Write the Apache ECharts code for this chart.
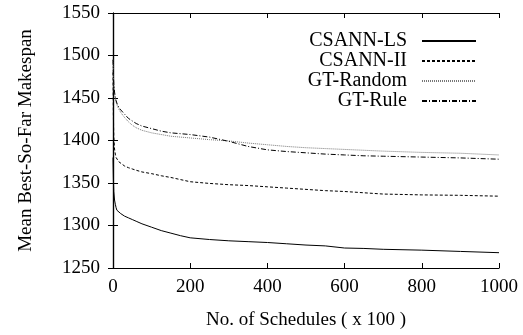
<!DOCTYPE html>
<html>
<head>
<meta charset="utf-8">
<script src="https://cdn.jsdelivr.net/npm/echarts@6/dist/echarts.min.js"></script>
<style>html,body{margin:0;padding:0;background:#fff}#c{width:523px;height:335px}</style>
</head>
<body>
<div id="c"></div>
<script>
const xValues = [0, 1, 2, 4, 6, 8, 10, 15, 20, 30, 40, 50, 60, 75, 100, 125, 150, 175, 200, 250, 300, 350, 400, 450, 500, 550, 600, 650, 700, 800, 900, 1000];
const csannLS = [1380, 1355, 1340, 1330, 1325, 1321, 1318, 1316, 1314, 1311, 1309, 1307, 1305, 1302, 1298, 1294, 1291, 1288, 1285.5, 1283.5, 1282, 1281, 1280, 1278.5, 1277, 1276, 1273.5, 1273, 1272, 1271, 1269.5, 1268];
const csannII = [1480, 1430, 1405, 1390, 1384, 1380, 1378, 1375, 1373, 1370, 1368, 1366.5, 1365, 1363, 1361, 1358.5, 1356.5, 1354, 1351.5, 1349.5, 1348, 1347, 1345.5, 1344, 1342.5, 1341, 1340, 1338.5, 1337, 1336, 1335.5, 1334.5];
const gtRandom = [1495, 1475, 1465, 1455, 1449, 1445, 1442, 1437, 1433, 1427, 1422, 1418, 1415, 1412, 1409, 1407, 1405, 1404, 1403, 1401, 1399.5, 1397, 1395, 1393, 1391.5, 1390.5, 1389.5, 1388.5, 1387.5, 1386, 1385, 1383];
const gtRule = [1495, 1477, 1467, 1457, 1451, 1447, 1444, 1439, 1436, 1431, 1426, 1423, 1420, 1417, 1414, 1411, 1409, 1408, 1407, 1404, 1399, 1393, 1389, 1387, 1385.5, 1384, 1383, 1382, 1381.5, 1380.5, 1379.5, 1378];
const seriesNames = ['CSANN-LS', 'CSANN-II', 'GT-Random', 'GT-Rule'];

const font = 'Liberation Serif';
const pairs = arr => xValues.map((x, i) => [x, arr[i]]);
const styles = [
  {type: 'solid', color: '#000'},
  {type: [3, 2], color: '#000'},
  {type: [1, 1], color: '#777'},
  {type: [5, 2, 1, 2], color: '#000'}
];
const data = [csannLS, csannII, gtRandom, gtRule];

const tickCommon = {show: true, inside: true, length: 5, lineStyle: {color: '#000', width: 1}};
const chart = echarts.init(document.getElementById('c'), null, {renderer: 'canvas'});
chart.setOption({
  animation: false,
  backgroundColor: '#fff',
  grid: {left: 113, right: 24, top: 13, bottom: 63, show: false},
  legend: {
    orient: 'vertical',
    right: 46,
    top: 31,
    padding: 0,
    align: 'right',
    itemWidth: 54,
    itemHeight: 10,
    itemGap: 0,
    data: seriesNames,
    itemStyle: {opacity: 0},
    textStyle: {fontFamily: font, fontSize: 20, lineHeight: 17.5, height: 17.5, color: '#000', padding: [0, 10, 0, 0]}
  },
  xAxis: [{
    type: 'value', min: 0, max: 1000, interval: 200,
    name: 'No. of Schedules ( x 100 )', nameLocation: 'middle', nameGap: 43,
    nameTextStyle: {fontFamily: font, fontSize: 19, color: '#000', verticalAlign: 'top'},
    axisLine: {show: true, onZero: false, lineStyle: {color: '#000', width: 1.2}},
    axisTick: tickCommon,
    axisLabel: {fontFamily: font, fontSize: 19, color: '#000', margin: 10, formatter: v => String(v)},
    splitLine: {show: false}
  }, {
    type: 'value', position: 'top', min: 0, max: 1000, interval: 200,
    axisLine: {show: true, lineStyle: {color: '#000', width: 1.2}},
    axisTick: tickCommon, axisLabel: {show: false}, splitLine: {show: false}
  }],
  yAxis: [{
    type: 'value', min: 1250, max: 1550, interval: 50,
    name: 'Mean Best-So-Far Makespan', nameLocation: 'middle', nameGap: 77,
    nameTextStyle: {fontFamily: font, fontSize: 19, color: '#000'},
    axisLine: {show: true, onZero: false, lineStyle: {color: '#000', width: 1.2}},
    axisTick: tickCommon,
    axisLabel: {fontFamily: font, fontSize: 19, color: '#000', margin: 13, formatter: v => String(v)},
    splitLine: {show: false}
  }, {
    type: 'value', position: 'right', min: 1250, max: 1550, interval: 50,
    axisLine: {show: true, lineStyle: {color: '#000', width: 1.2}},
    axisTick: tickCommon, axisLabel: {show: false}, splitLine: {show: false}
  }],
  series: seriesNames.map((n, i) => ({
    name: n, type: 'line', data: pairs(data[i]),
    showSymbol: false, symbol: 'none', smooth: false,
    color: styles[i].color,
    lineStyle: {color: styles[i].color, width: 1, type: styles[i].type}
  }))
});
</script>
</body>
</html>
